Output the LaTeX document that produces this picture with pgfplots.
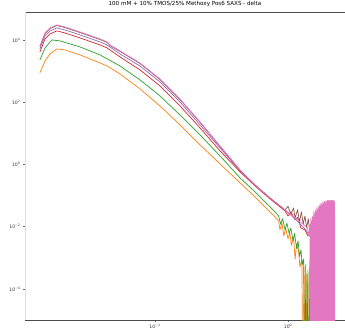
\documentclass[border=0pt]{standalone}
\usepackage{pgfplots}
\pgfplotsset{compat=1.18}
\usepackage{fontspec}
\setmainfont{DejaVu Sans}
\definecolor{cOrange}{HTML}{FF7F0E}
\definecolor{cGreen}{HTML}{2CA02C}
\definecolor{cRed}{HTML}{D62728}
\definecolor{cPurple}{HTML}{9467BD}
\definecolor{cBrown}{HTML}{8C564B}
\definecolor{cPink}{HTML}{E377C2}
\begin{document}
\begin{tikzpicture}
\useasboundingbox (0,0) rectangle (345pt,329pt);
\begin{axis}[
  at={(25pt,9pt)}, anchor=south west,
  scale only axis, width=320pt, height=308pt,
  xmode=log, ymode=log,
  xmin=0.01054, xmax=2.68, ymin=1e-5, ymax=7.9e4,
  clip=true,
  title={100 mM + 10\% TMOS/25\% Methoxy Pos6 SAXS - delta},
  title style={font=\fontsize{5.6}{6}\selectfont, yshift=-4.5pt},
  separate axis lines,
  x axis line style={draw=black!70, line width=0.8pt},
  y axis line style={draw=black!12, line width=0.4pt},
  ytick={1e4,1e2,1,1e-2,1e-4},
  yticklabels={10\textsuperscript{4},10\textsuperscript{2},10\textsuperscript{0},10\textsuperscript{−2},10\textsuperscript{−4}},
  xtick={0.1,1},
  xticklabels={10\textsuperscript{−1},10\textsuperscript{0}},
  minor xtick={0.02,0.03,0.04,0.05,0.06,0.07,0.08,0.09,0.2,0.3,0.4,0.5,0.6,0.7,0.8,0.9,2},
  minor ytick={},
  ytick pos=left, xtick pos=bottom,
  tick align=outside,
  major tick length=2pt, minor tick length=1.2pt,
  every tick/.style={black!60, line width=0.4pt},
  tick label style={font=\fontsize{4.6}{5}\selectfont, black!80},
  yticklabel style={xshift=1pt},
  xticklabel style={yshift=1pt},
  every axis plot/.append style={line width=0.7pt, line join=round},
]
% orange
\addplot[cOrange] coordinates {
(0.01365,871)(0.0149,2110)(0.01625,3550)(0.0183,5140)(0.0210,4780)(0.0273,3300)
(0.0386,1820)(0.0436,1460)(0.0546,809)(0.0771,267)(0.109,75.8)(0.154,18.6)
(0.218,4.24)(0.308,1.04)(0.436,0.255)(0.565,0.0903)(0.671,0.0431)(0.798,0.0206)
(0.85,0.015)(0.87,0.008)(0.90,0.013)(0.93,0.005)(0.96,0.009)(1.0,0.004)(1.03,0.0065)
(1.06,0.0025)(1.10,0.0045)(1.13,0.0009)(1.16,0.0028)(1.20,0.0016)(1.23,0.0005)
(1.27,0.0009)(1.30,1e-8)(1.32,0.0005)(1.35,1e-8)(1.37,0.0003)(1.39,1e-8)(1.41,0.0002)(1.42,1e-8)
};
% green
\addplot[cGreen] coordinates {
(0.01365,2280)(0.0149,5530)(0.01681,10000)(0.01931,9290)(0.0273,5960)(0.0386,3300)
(0.0546,1460)(0.0771,519)(0.109,159)(0.154,38.9)(0.218,8.87)(0.308,1.88)
(0.436,0.368)(0.565,0.131)(0.671,0.0624)(0.798,0.0298)(0.85,0.022)(0.88,0.012)
(0.91,0.018)(0.95,0.008)(0.98,0.013)(1.02,0.006)(1.05,0.009)(1.09,0.0035)(1.12,0.006)
(1.16,0.002)(1.19,0.0035)(1.22,0.0011)(1.25,0.0018)(1.28,0.0006)(1.31,0.0009)
(1.34,1e-8)(1.36,0.0006)(1.38,1e-8)(1.41,0.0004)(1.43,1e-8)(1.46,0.0008)(1.48,1e-8)
(1.50,0.001)(1.52,1e-8)(1.55,0.0015)(1.57,1e-8)(1.60,0.001)(1.62,1e-8)(1.65,0.0008)
(1.67,1e-8)(1.70,0.0006)(1.72,1e-8)(1.75,0.0004)(1.77,1e-8)(1.80,0.0003)(1.81,1e-8)
};
% red
\addplot[cRed] coordinates {
(0.01365,4110)(0.0149,10800)(0.01625,15600)(0.0183,19500)(0.0210,16800)(0.0273,11600)
(0.0386,6910)(0.0436,5530)(0.0546,2840)(0.0771,1090)(0.109,333)(0.154,75.8)
(0.218,14.9)(0.308,2.72)(0.436,0.574)(0.565,0.204)(0.732,0.0780)(0.949,0.0321)
(1.0,0.022)(1.05,0.03)(1.13,0.0165)(1.18,0.02)(1.25,0.009)(1.34,0.00787)(1.41,0.005)
(1.46,0.008)(1.514,0.003)(1.56,0.005)(1.60,0.0015)(1.64,0.003)(1.683,0.0005)(1.70,1e-8)
(1.72,0.001)(1.742,1e-8)
};
% purple
\addplot[cPurple] coordinates {
(0.01365,5140)(0.0149,13500)(0.01625,19500)(0.0183,24300)(0.0210,21000)(0.0273,14500)
(0.0386,8630)(0.0436,6910)(0.0546,3550)(0.0771,1460)(0.109,448)(0.154,102)
(0.218,18.6)(0.308,3.39)(0.436,0.618)(0.565,0.219)(0.732,0.0839)(0.949,0.0345)
(1.13,0.0177)(1.34,0.00848)(1.514,0.004)(1.683,0.0015)(1.803,0.0005)(1.85,1e-8)
};
% brown
\addplot[cBrown] coordinates {
(0.01365,6100)(0.0149,16000)(0.01625,23200)(0.0183,29000)(0.0210,25000)(0.0273,17300)
(0.0386,10300)(0.0436,8300)(0.0459,6600)(0.0546,4250)(0.0771,1750)(0.109,535)(0.154,122)
(0.218,22.3)(0.308,3.8)(0.436,0.65)(0.565,0.215)(0.732,0.082)(0.949,0.034)
(1.0,0.045)(1.05,0.025)(1.10,0.04)(1.13,0.019)(1.18,0.035)(1.22,0.014)(1.26,0.03)
(1.30,0.012)(1.34,0.022)(1.38,0.009)(1.42,0.018)(1.46,0.006)(1.50,0.012)(1.56,0.004)
(1.62,0.008)(1.70,0.002)(1.78,0.004)(1.83,1e-8)(1.86,0.003)(1.88,1e-8)
};
% pink
\addplot[cPink] coordinates {
(0.01365,6410)(0.0149,16800)(0.01625,24300)(0.0183,30300)(0.0210,26200)(0.0273,18100)
(0.0386,10800)(0.0436,8630)(0.0459,6910)(0.0546,4440)(0.0771,1820)(0.109,558)
(0.154,127)(0.218,23.2)(0.308,3.93)(0.436,0.665)(0.565,0.219)(0.732,0.0839)
(0.949,0.0345)(1.13,0.0191)(1.34,0.0106)(1.40,0.009)(1.43,0.005)
(1.46,0.012)(1.47,1e-8)(1.48,0.018)(1.49,1e-8)(1.50,0.015)(1.51,1e-8)(1.52,0.022)
(1.53,1e-8)(1.54,0.02)(1.55,1e-8)(1.56,0.03)(1.57,1e-8)(1.58,0.025)(1.59,1e-8)
(1.60,0.035)(1.61,1e-8)(1.62,0.03)(1.63,1e-8)(1.64,0.04)(1.65,1e-8)(1.66,0.035)
(1.67,1e-8)(1.68,0.045)(1.69,1e-8)(1.70,0.04)(1.71,1e-8)(1.72,0.05)(1.73,1e-8)
(1.74,0.045)(1.75,1e-8)(1.76,0.055)(1.77,1e-8)(1.78,0.05)(1.79,1e-8)(1.80,0.06)
(1.81,1e-8)(1.82,0.05)(1.83,1e-8)(1.84,0.06)(1.85,1e-8)(1.86,0.055)(1.87,1e-8)
(1.88,0.065)(1.89,1e-8)(1.90,0.055)(1.91,1e-8)(1.92,0.065)(1.93,1e-8)(1.94,0.06)
(1.95,1e-8)(1.96,0.07)(1.97,1e-8)(1.98,0.06)(1.99,1e-8)(2.00,0.07)(2.01,1e-8)
(2.02,0.065)(2.03,1e-8)(2.04,0.07)(2.05,1e-8)(2.06,0.06)(2.07,1e-8)(2.08,0.07)
(2.09,1e-8)(2.10,0.065)(2.11,1e-8)(2.12,0.07)(2.13,1e-8)(2.14,0.06)(2.15,1e-8)
(2.16,0.07)(2.17,1e-8)(2.18,0.065)(2.19,1e-8)(2.20,0.07)(2.21,1e-8)(2.22,0.06)
(2.23,1e-8)(2.24,0.065)(2.25,1e-8)
};
\end{axis}
\end{tikzpicture}
\end{document}
